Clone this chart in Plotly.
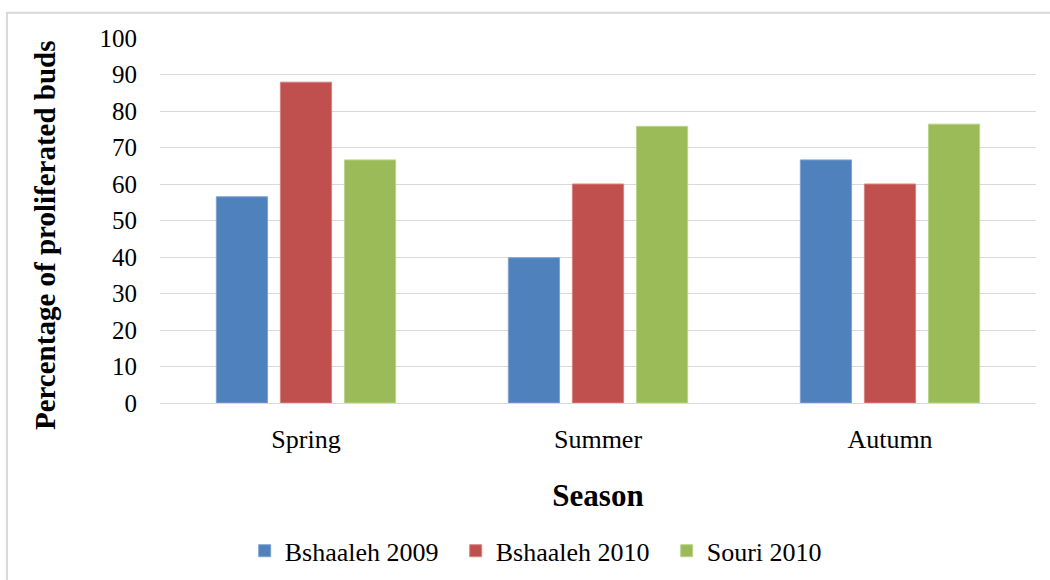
import plotly.graph_objects as go

seasons = ["Spring", "Summer", "Autumn"]
bshaaleh_2009 = [56.5, 39.8, 66.6]
bshaaleh_2010 = [87.9, 60.0, 60.0]
souri_2010 = [66.6, 75.8, 76.4]

series = [
    ("Bshaaleh 2009", bshaaleh_2009, "#4F81BD", "#7FA3D1"),
    ("Bshaaleh 2010", bshaaleh_2010, "#C0504D", "#D7837F"),
    ("Souri 2010", souri_2010, "#9BBB59", "#BBD38A"),
]

FONT = "Liberation Serif"

fig = go.Figure()
for name, vals, color, edge in series:
    fig.add_trace(go.Bar(
        x=seasons, y=vals, name=name,
        marker=dict(color=color, line=dict(color=edge, width=1)),
    ))

fig.update_layout(
    width=1050, height=580, autosize=False,
    margin=dict(l=160, r=14, t=38, b=177, autoexpand=False),
    paper_bgcolor="white", plot_bgcolor="white",
    barmode="group", bargap=0.342, bargroupgap=0.2,
    font=dict(family=FONT, size=25, color="black"),
    showlegend=True,
    legend=dict(
        orientation="h", x=0.458, xanchor="center", y=-0.405, yanchor="middle",
        font=dict(family=FONT, size=26, color="black"),
        itemwidth=30, traceorder="normal",
        entrywidth=166, entrywidthmode="pixels",
    ),
    xaxis=dict(
        showgrid=False, showline=False, ticks="", zeroline=False,
        automargin=False,
        tickfont=dict(family=FONT, size=26),
        ticklabelstandoff=18,
        title=dict(text="<b>Season</b>", font=dict(family=FONT, size=31), standoff=31),
    ),
    yaxis=dict(
        range=[0, 100], dtick=10, tick0=0,
        showgrid=True, gridcolor="#D9D9D9", gridwidth=1,
        zeroline=True, zerolinecolor="#D9D9D9", zerolinewidth=1,
        showline=False, ticks="", automargin=False,
        tickfont=dict(family=FONT, size=25),
        ticklabelstandoff=22,
    ),
    annotations=[dict(
        text="<b>Percentage of proliferated buds</b>",
        xref="paper", yref="paper", x=-0.1313, y=0.46,
        xanchor="center", yanchor="middle", textangle=-90, showarrow=False,
        font=dict(family=FONT, size=29, color="black"),
    )],
    shapes=[dict(
        type="rect", xref="paper", yref="paper",
        x0=-0.1747, x1=1.03, y0=-0.6, y1=1.069,
        line=dict(color="#D9D9D9", width=2), fillcolor="rgba(0,0,0,0)", layer="below",
    )],
)

fig.write_html(
    "out.html",
    config={"responsive": False, "displayModeBar": False},
    post_script="document.body.style.margin='0';document.body.style.overflow='hidden';",
)
